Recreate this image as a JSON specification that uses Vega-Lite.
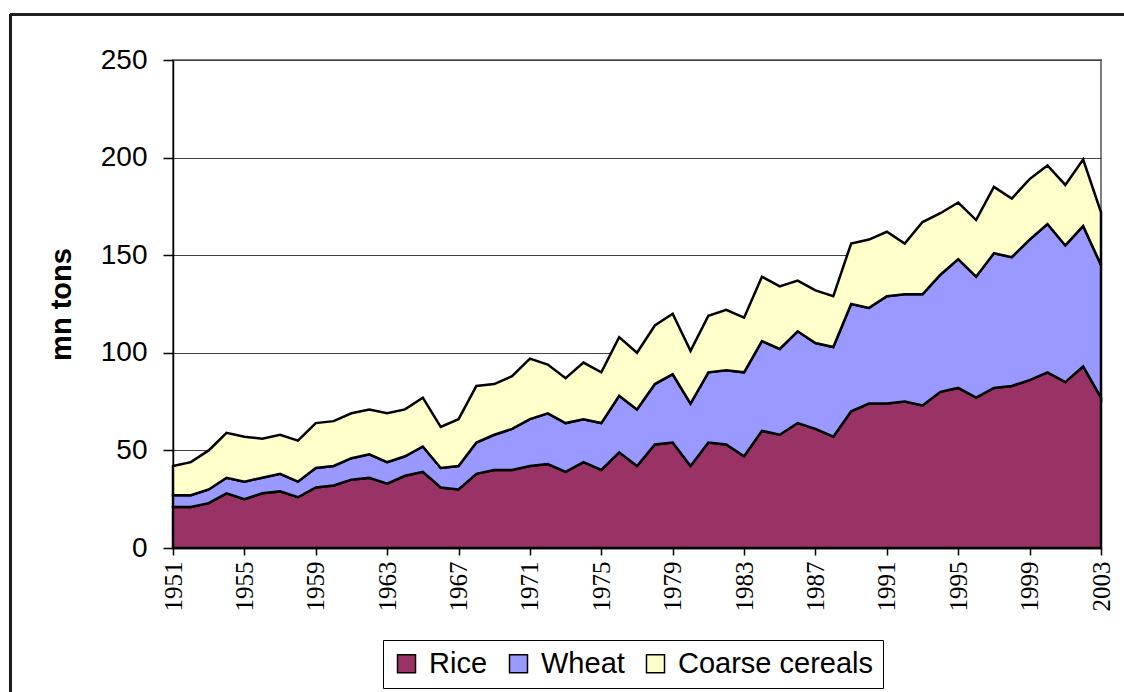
{
  "$schema": "https://vega.github.io/schema/vega-lite/v6.json",
  "width": 928,
  "height": 488,
  "autosize": "none",
  "padding": {"left": 173, "top": 60, "right": 23, "bottom": 144},
  "background": "white",
  "config": {
    "font": "Liberation Sans",
    "view": {"stroke": "#808080", "strokeWidth": 2}
  },
  "data": {"values": [
    {"year":1951,"crop":"Rice","mt":21},{"year":1951,"crop":"Wheat","mt":6},{"year":1951,"crop":"Coarse cereals","mt":15},
    {"year":1952,"crop":"Rice","mt":21},{"year":1952,"crop":"Wheat","mt":6},{"year":1952,"crop":"Coarse cereals","mt":17},
    {"year":1953,"crop":"Rice","mt":23},{"year":1953,"crop":"Wheat","mt":7},{"year":1953,"crop":"Coarse cereals","mt":20},
    {"year":1954,"crop":"Rice","mt":28},{"year":1954,"crop":"Wheat","mt":8},{"year":1954,"crop":"Coarse cereals","mt":23},
    {"year":1955,"crop":"Rice","mt":25},{"year":1955,"crop":"Wheat","mt":9},{"year":1955,"crop":"Coarse cereals","mt":23},
    {"year":1956,"crop":"Rice","mt":28},{"year":1956,"crop":"Wheat","mt":8},{"year":1956,"crop":"Coarse cereals","mt":20},
    {"year":1957,"crop":"Rice","mt":29},{"year":1957,"crop":"Wheat","mt":9},{"year":1957,"crop":"Coarse cereals","mt":20},
    {"year":1958,"crop":"Rice","mt":26},{"year":1958,"crop":"Wheat","mt":8},{"year":1958,"crop":"Coarse cereals","mt":21},
    {"year":1959,"crop":"Rice","mt":31},{"year":1959,"crop":"Wheat","mt":10},{"year":1959,"crop":"Coarse cereals","mt":23},
    {"year":1960,"crop":"Rice","mt":32},{"year":1960,"crop":"Wheat","mt":10},{"year":1960,"crop":"Coarse cereals","mt":23},
    {"year":1961,"crop":"Rice","mt":35},{"year":1961,"crop":"Wheat","mt":11},{"year":1961,"crop":"Coarse cereals","mt":23},
    {"year":1962,"crop":"Rice","mt":36},{"year":1962,"crop":"Wheat","mt":12},{"year":1962,"crop":"Coarse cereals","mt":23},
    {"year":1963,"crop":"Rice","mt":33},{"year":1963,"crop":"Wheat","mt":11},{"year":1963,"crop":"Coarse cereals","mt":25},
    {"year":1964,"crop":"Rice","mt":37},{"year":1964,"crop":"Wheat","mt":10},{"year":1964,"crop":"Coarse cereals","mt":24},
    {"year":1965,"crop":"Rice","mt":39},{"year":1965,"crop":"Wheat","mt":13},{"year":1965,"crop":"Coarse cereals","mt":25},
    {"year":1966,"crop":"Rice","mt":31},{"year":1966,"crop":"Wheat","mt":10},{"year":1966,"crop":"Coarse cereals","mt":21},
    {"year":1967,"crop":"Rice","mt":30},{"year":1967,"crop":"Wheat","mt":12},{"year":1967,"crop":"Coarse cereals","mt":24},
    {"year":1968,"crop":"Rice","mt":38},{"year":1968,"crop":"Wheat","mt":16},{"year":1968,"crop":"Coarse cereals","mt":29},
    {"year":1969,"crop":"Rice","mt":40},{"year":1969,"crop":"Wheat","mt":18},{"year":1969,"crop":"Coarse cereals","mt":26},
    {"year":1970,"crop":"Rice","mt":40},{"year":1970,"crop":"Wheat","mt":21},{"year":1970,"crop":"Coarse cereals","mt":27},
    {"year":1971,"crop":"Rice","mt":42},{"year":1971,"crop":"Wheat","mt":24},{"year":1971,"crop":"Coarse cereals","mt":31},
    {"year":1972,"crop":"Rice","mt":43},{"year":1972,"crop":"Wheat","mt":26},{"year":1972,"crop":"Coarse cereals","mt":25},
    {"year":1973,"crop":"Rice","mt":39},{"year":1973,"crop":"Wheat","mt":25},{"year":1973,"crop":"Coarse cereals","mt":23},
    {"year":1974,"crop":"Rice","mt":44},{"year":1974,"crop":"Wheat","mt":22},{"year":1974,"crop":"Coarse cereals","mt":29},
    {"year":1975,"crop":"Rice","mt":40},{"year":1975,"crop":"Wheat","mt":24},{"year":1975,"crop":"Coarse cereals","mt":26},
    {"year":1976,"crop":"Rice","mt":49},{"year":1976,"crop":"Wheat","mt":29},{"year":1976,"crop":"Coarse cereals","mt":30},
    {"year":1977,"crop":"Rice","mt":42},{"year":1977,"crop":"Wheat","mt":29},{"year":1977,"crop":"Coarse cereals","mt":29},
    {"year":1978,"crop":"Rice","mt":53},{"year":1978,"crop":"Wheat","mt":31},{"year":1978,"crop":"Coarse cereals","mt":30},
    {"year":1979,"crop":"Rice","mt":54},{"year":1979,"crop":"Wheat","mt":35},{"year":1979,"crop":"Coarse cereals","mt":31},
    {"year":1980,"crop":"Rice","mt":42},{"year":1980,"crop":"Wheat","mt":32},{"year":1980,"crop":"Coarse cereals","mt":27},
    {"year":1981,"crop":"Rice","mt":54},{"year":1981,"crop":"Wheat","mt":36},{"year":1981,"crop":"Coarse cereals","mt":29},
    {"year":1982,"crop":"Rice","mt":53},{"year":1982,"crop":"Wheat","mt":38},{"year":1982,"crop":"Coarse cereals","mt":31},
    {"year":1983,"crop":"Rice","mt":47},{"year":1983,"crop":"Wheat","mt":43},{"year":1983,"crop":"Coarse cereals","mt":28},
    {"year":1984,"crop":"Rice","mt":60},{"year":1984,"crop":"Wheat","mt":46},{"year":1984,"crop":"Coarse cereals","mt":33},
    {"year":1985,"crop":"Rice","mt":58},{"year":1985,"crop":"Wheat","mt":44},{"year":1985,"crop":"Coarse cereals","mt":32},
    {"year":1986,"crop":"Rice","mt":64},{"year":1986,"crop":"Wheat","mt":47},{"year":1986,"crop":"Coarse cereals","mt":26},
    {"year":1987,"crop":"Rice","mt":61},{"year":1987,"crop":"Wheat","mt":44},{"year":1987,"crop":"Coarse cereals","mt":27},
    {"year":1988,"crop":"Rice","mt":57},{"year":1988,"crop":"Wheat","mt":46},{"year":1988,"crop":"Coarse cereals","mt":26},
    {"year":1989,"crop":"Rice","mt":70},{"year":1989,"crop":"Wheat","mt":55},{"year":1989,"crop":"Coarse cereals","mt":31},
    {"year":1990,"crop":"Rice","mt":74},{"year":1990,"crop":"Wheat","mt":49},{"year":1990,"crop":"Coarse cereals","mt":35},
    {"year":1991,"crop":"Rice","mt":74},{"year":1991,"crop":"Wheat","mt":55},{"year":1991,"crop":"Coarse cereals","mt":33},
    {"year":1992,"crop":"Rice","mt":75},{"year":1992,"crop":"Wheat","mt":55},{"year":1992,"crop":"Coarse cereals","mt":26},
    {"year":1993,"crop":"Rice","mt":73},{"year":1993,"crop":"Wheat","mt":57},{"year":1993,"crop":"Coarse cereals","mt":37},
    {"year":1994,"crop":"Rice","mt":80},{"year":1994,"crop":"Wheat","mt":60},{"year":1994,"crop":"Coarse cereals","mt":31.5},
    {"year":1995,"crop":"Rice","mt":82},{"year":1995,"crop":"Wheat","mt":66},{"year":1995,"crop":"Coarse cereals","mt":29},
    {"year":1996,"crop":"Rice","mt":77},{"year":1996,"crop":"Wheat","mt":62},{"year":1996,"crop":"Coarse cereals","mt":29},
    {"year":1997,"crop":"Rice","mt":82},{"year":1997,"crop":"Wheat","mt":69},{"year":1997,"crop":"Coarse cereals","mt":34},
    {"year":1998,"crop":"Rice","mt":83},{"year":1998,"crop":"Wheat","mt":66},{"year":1998,"crop":"Coarse cereals","mt":30},
    {"year":1999,"crop":"Rice","mt":86},{"year":1999,"crop":"Wheat","mt":72},{"year":1999,"crop":"Coarse cereals","mt":31},
    {"year":2000,"crop":"Rice","mt":90},{"year":2000,"crop":"Wheat","mt":76},{"year":2000,"crop":"Coarse cereals","mt":30},
    {"year":2001,"crop":"Rice","mt":85},{"year":2001,"crop":"Wheat","mt":70},{"year":2001,"crop":"Coarse cereals","mt":31},
    {"year":2002,"crop":"Rice","mt":93},{"year":2002,"crop":"Wheat","mt":72},{"year":2002,"crop":"Coarse cereals","mt":34},
    {"year":2003,"crop":"Rice","mt":77},{"year":2003,"crop":"Wheat","mt":68},{"year":2003,"crop":"Coarse cereals","mt":27}
  ]},
  "layer": [
    {
      "transform": [
        {"calculate": "indexof(['Rice','Wheat','Coarse cereals'], datum.crop)", "as": "ord"}
      ],
      "mark": {"type": "area", "stroke": "black", "strokeWidth": 2.5, "strokeJoin": "miter", "interpolate": "linear"},
      "encoding": {
        "x": {
          "field": "year", "type": "quantitative",
          "scale": {"domain": [1951, 2003], "nice": false, "zero": false},
          "axis": {
            "title": null,
            "values": [1951,1953,1955,1957,1959,1961,1963,1965,1967,1969,1971,1973,1975,1977,1979,1981,1983,1985,1987,1989,1991,1993,1995,1997,1999,2001,2003],
            "labelExpr": "(datum.value - 1951) % 4 == 0 ? format(datum.value, 'd') : ''",
            "labelAngle": 270,
            "labelAlign": "right",
            "labelBaseline": "middle",
            "labelFont": "Liberation Serif",
            "labelFontSize": 25,
            "labelColor": "black",
            "labelPadding": 6,
            "labelOverlap": false,
            "labelBound": false,
            "labelFlush": false,
            "tickSize": 7,
            "tickColor": "black",
            "tickWidth": 1.5,
            "domainColor": "black",
            "domainWidth": 1.5,
            "grid": false
          }
        },
        "y": {
          "field": "mt", "type": "quantitative", "stack": "zero",
          "scale": {"domain": [0, 250], "nice": false},
          "axis": {
            "title": "mn tons",
            "titleFont": "Liberation Sans",
            "titleFontSize": 29,
            "titleFontWeight": "bold",
            "titleColor": "black",
            "titleAngle": -90,
            "titleX": -112,
            "titleY": 244,
            "titleAlign": "center",
            "titleBaseline": "middle",
            "values": [0, 50, 100, 150, 200, 250],
            "labelFontSize": 28,
            "labelColor": "black",
            "labelPadding": 16,
            "tickSize": 10,
            "tickColor": "black",
            "tickWidth": 1.5,
            "domainColor": "black",
            "domainWidth": 1.5,
            "grid": true,
            "gridColor": "#404040",
            "gridWidth": 1
          }
        },
        "color": {
          "field": "crop", "type": "nominal",
          "scale": {"domain": ["Rice", "Wheat", "Coarse cereals"], "range": ["#993366", "#9999FF", "#FFFFCC"]},
          "legend": {
            "title": null,
            "orient": "none",
            "legendX": 210,
            "legendY": 580,
            "direction": "horizontal",
            "columns": 3,
            "symbolType": "square",
            "symbolSize": 324,
            "symbolStrokeColor": "black",
            "symbolStrokeWidth": 1.5,
            "symbolOpacity": 1,
            "labelFontSize": 29,
            "labelLimit": 400,
            "labelColor": "black",
            "labelOffset": 8,
            "columnPadding": 16,
            "padding": 9,
            "strokeColor": "black",
            "fillColor": "white"
          }
        },
        "order": {"field": "ord", "type": "quantitative"}
      }
    },
    {
      "mark": {"type": "rect", "fill": null, "stroke": "#222222", "strokeWidth": 2, "clip": false},
      "encoding": {
        "x": {"datum": 1941.92, "type": "quantitative"},
        "x2": {"datum": 2015},
        "y": {"datum": 273.2, "type": "quantitative"},
        "y2": {"datum": -100}
      }
    }
  ]
}
